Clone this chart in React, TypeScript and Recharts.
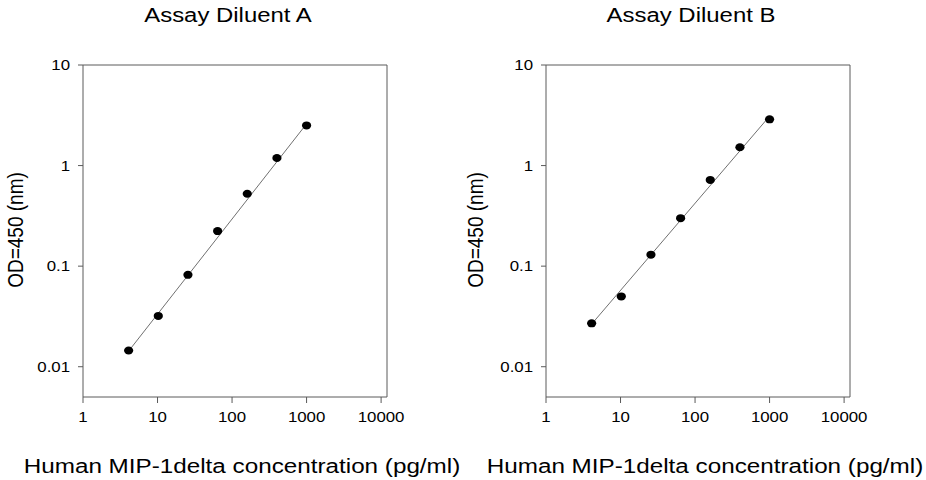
import { ScatterChart, Scatter, XAxis, YAxis, ReferenceLine } from "recharts";

const conc = [4.096, 10.24, 25.6, 64, 160, 400, 1000];
const odA = [0.0145, 0.032, 0.082, 0.223, 0.525, 1.19, 2.51];
const odB = [0.027, 0.05, 0.13, 0.3, 0.72, 1.52, 2.88];

// fitted line end points
const fitConc = [4.096, 1000];
const fitOdA = [0.0143, 2.6];
const fitOdB = [0.0265, 3.1];

const xTicks = [1, 10, 100, 1000, 10000];
const yTicks = [0.01, 0.1, 1, 10];
const xDomain = [1, 12000];
const yDomain = [0.005, 10];

const FONT = '"Liberation Sans", Arial, Helvetica, sans-serif';
const FRAME = "#5a5a5a";

const toPoints = (xs: number[], ys: number[]) => xs.map((x, i) => ({ x, y: ys[i] }));

function XTick({ x, y, payload }: any) {
  return (
    <g transform={`translate(${x},${y}) scale(1.16,1)`}>
      <text x={0} y={0} dy="0.71em" textAnchor="middle" fontSize={14.5} fill="#000" fontFamily={FONT}>
        {payload.value}
      </text>
    </g>
  );
}

function YTick({ x, y, payload }: any) {
  return (
    <g transform={`translate(${x},${y}) scale(1.16,1)`}>
      <text x={0} y={0} dy="0.35em" textAnchor="end" fontSize={14.5} fill="#000" fontFamily={FONT}>
        {payload.value}
      </text>
    </g>
  );
}

const Dot = (p: any) => <ellipse cx={p.cx} cy={p.cy} rx={4.6} ry={4} fill="#000" />;
const NoDot = () => <g />;

function Panel({ title, od, fit, left, yLabelX }: { title: string; od: number[]; fit: number[]; left: number; yLabelX: number }) {
  return (
    <div style={{ position: "absolute", left, top: 0, width: 463, height: 480 }}>
      <ScatterChart width={463} height={480} margin={{ top: 65, right: 76, bottom: 0, left: 0 }}>
        <XAxis
          dataKey="x"
          type="number"
          scale="log"
          domain={xDomain}
          ticks={xTicks}
          interval={0}
          height={83}
          tickSize={6}
          tickMargin={9}
          axisLine={{ stroke: FRAME }}
          tickLine={{ stroke: FRAME }}
          tick={<XTick />}
          allowDataOverflow
        />
        <YAxis
          dataKey="y"
          type="number"
          scale="log"
          domain={yDomain}
          ticks={yTicks}
          interval={0}
          width={83}
          tickSize={5}
          tickMargin={8}
          axisLine={{ stroke: FRAME }}
          tickLine={{ stroke: FRAME }}
          tick={<YTick />}
          allowDataOverflow
        />
        <ReferenceLine y={10} stroke={FRAME} />
        <ReferenceLine x={12000} stroke={FRAME} />
        <Scatter
          data={toPoints(fitConc, fit)}
          line={{ stroke: "#707070", strokeWidth: 1 }}
          shape={NoDot}
          isAnimationActive={false}
        />
        <Scatter data={toPoints(conc, od)} shape={Dot} isAnimationActive={false} />
      </ScatterChart>
      <svg width={463} height={480} style={{ position: "absolute", left: 0, top: 0, pointerEvents: "none" }}>
        <text transform="translate(228,22) scale(1.14,1)" textAnchor="middle" fontSize={21} fill="#000" fontFamily={FONT}>
          {title}
        </text>
        <text transform="translate(242,473) scale(1.155,1)" textAnchor="middle" fontSize={21} fill="#000" fontFamily={FONT}>
          Human MIP-1delta concentration (pg/ml)
        </text>
        <text
          transform={`translate(${yLabelX},230) rotate(-90) scale(1,1.14)`}
          textAnchor="middle"
          fontSize={19}
          fill="#000"
          fontFamily={FONT}
        >
          OD=450 (nm)
        </text>
      </svg>
    </div>
  );
}

export default function App() {
  return (
    <div style={{ position: "absolute", left: 0, top: 0, width: 926, height: 480, background: "#fff" }}>
      <Panel title="Assay Diluent A" od={odA} fit={fitOdA} left={0} yLabelX={23} />
      <Panel title="Assay Diluent B" od={odB} fit={fitOdB} left={463} yLabelX={20} />
    </div>
  );
}
